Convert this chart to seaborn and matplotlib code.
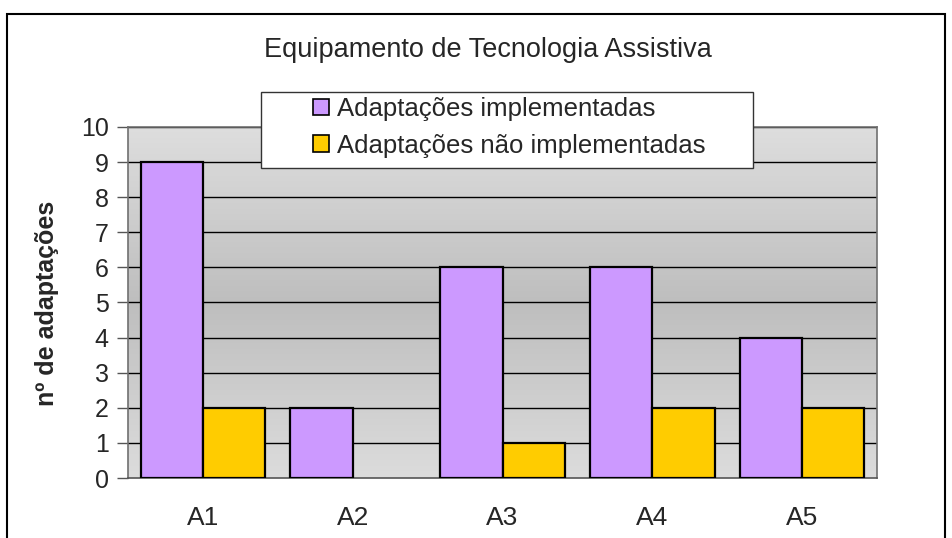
import numpy as np
import pandas as pd
import matplotlib
matplotlib.use("Agg")
import matplotlib.pyplot as plt
import seaborn as sns
from matplotlib.patches import Rectangle
from matplotlib.colors import LinearSegmentedColormap

# --- dados do gráfico ---
grupos = ["A1", "A2", "A3", "A4", "A5"]
implementadas = [9, 2, 6, 6, 4]
nao_implementadas = [2, 0, 1, 2, 2]
series = ["Adaptações implementadas", "Adaptações não implementadas"]
cores = ["#cc99ff", "#ffcc00"]
titulo = "Equipamento de Tecnologia Assistiva"
rotulo_y = "nº de adaptações"
ticks_y = list(range(0, 11))

df = pd.DataFrame({
    "grupo": grupos * 2,
    "valor": implementadas + nao_implementadas,
    "serie": [series[0]] * len(grupos) + [series[1]] * len(grupos),
})

sns.set_style("white")
plt.rcParams["font.family"] = ["Liberation Sans", "DejaVu Sans"]

W, H = 953, 538
fig = plt.figure(figsize=(W / 100, H / 100), dpi=100)
ax = fig.add_axes([128 / W, 1 - 478 / H, (877 - 128) / W, (478 - 127) / H])

# fundo em degradê (estilo Excel)
grad = LinearSegmentedColormap.from_list(
    "fundo", [(0, "#dedede"), (0.5, "#bebebe"), (1, "#dcdcdc")])
ax.imshow(np.linspace(0, 1, 256).reshape(-1, 1), cmap=grad, aspect="auto",
          extent=[0, 1, 0, 1], transform=ax.transAxes, zorder=0)

sns.barplot(data=df, x="grupo", y="valor", hue="serie", palette=cores,
            edgecolor="black", linewidth=1.6, width=0.833, ax=ax,
            legend=False, zorder=3, saturation=1)
for p in ax.patches:
    if p.get_height() == 0:
        p.set_linewidth(0)

ax.set_xlim(-0.5, 4.5)
ax.set_ylim(0, 10)
ax.set_yticks(ticks_y)
for v in ticks_y[1:]:
    ax.axhline(v, color="black", lw=1.0, zorder=1)

ax.set_xticks(range(len(grupos)))
ax.set_xticklabels(grupos)
ax.set_xticks(np.arange(-0.5, 5, 1), minor=True)
ax.tick_params(axis="x", which="major", length=0, pad=20, labelsize=19)
ax.tick_params(axis="x", which="minor", length=7, width=1, color="#555555",
               direction="out")
ax.tick_params(axis="y", length=8, width=1, color="#555555", direction="out",
               pad=6, labelsize=18, left=True)
ax.set_xlabel("")
ax.set_ylabel("")
for s in ax.spines.values():
    s.set_color("#707070")
    s.set_linewidth(1.2)
ax.spines["bottom"].set_color("#555555")

fig.text(47 / W, 1 - 303 / H, rotulo_y, rotation=90, ha="center",
         va="center", fontsize=18, fontweight="bold")
fig.text(488 / W, 1 - 50 / H, titulo, ha="center", va="center", fontsize=19.5)

# caixa da legenda
fig.patches.append(Rectangle((261 / W, 1 - 168 / H), (753 - 261) / W,
                             (168 - 92) / H, transform=fig.transFigure,
                             facecolor="white", edgecolor="#333333", lw=1.0,
                             zorder=4))
handles = [Rectangle((0, 0), 1, 1, facecolor=c, edgecolor="black", lw=1.2)
           for c in cores]
leg = fig.legend(handles, series, loc="upper left",
                 bbox_to_anchor=(313 / W, 1 - 97 / H), fontsize=18.5,
                 frameon=False, handlelength=0.62, handleheight=0.62,
                 handletextpad=0.31, borderpad=0, labelspacing=0.5,
                 borderaxespad=0)
leg.set_zorder(5)

# moldura externa do gráfico
fig.patches.append(Rectangle((7 / W, -0.05), (945 - 7) / W, 1.05 - 14 / H,
                             transform=fig.transFigure, fill=False,
                             edgecolor="black", lw=1.5, zorder=6))

fig.savefig("out.png", dpi=100)
